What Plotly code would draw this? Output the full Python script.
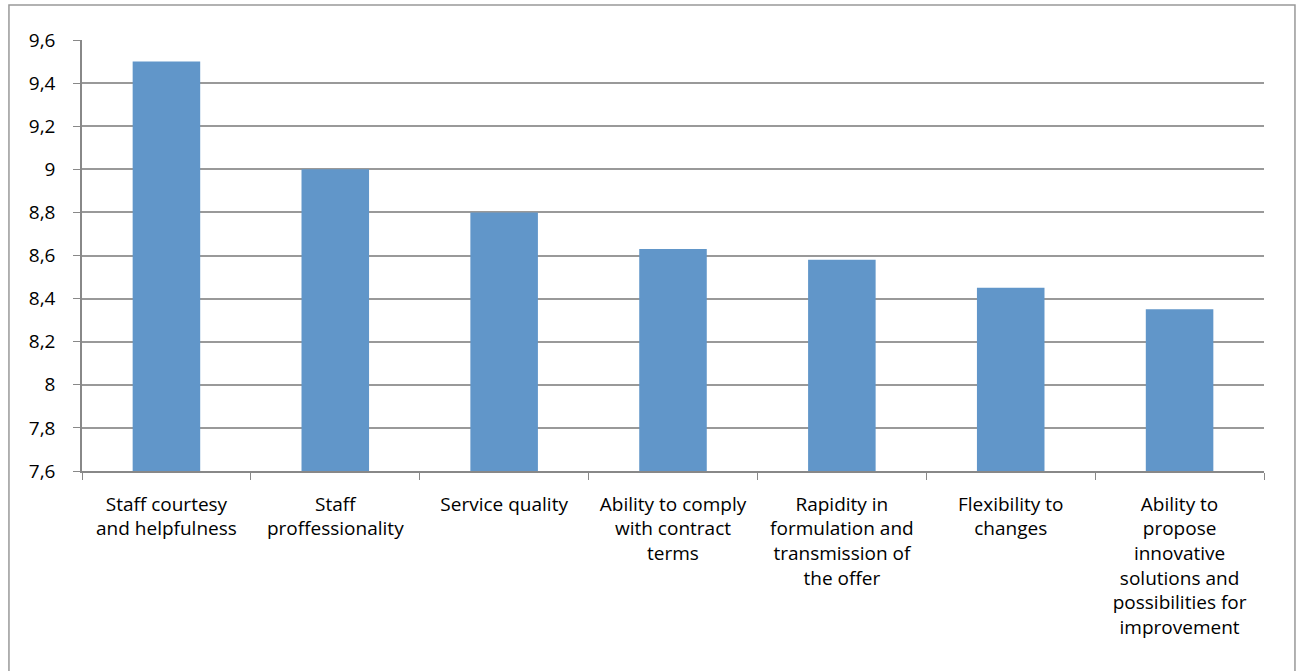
import plotly.graph_objects as go

categories = [
    "Staff courtesy<br>and helpfulness",
    "Staff<br>proffessionality",
    "Service quality",
    "Ability to comply<br>with contract<br>terms",
    "Rapidity in<br>formulation and<br>transmission of<br>the offer",
    "Flexibility to<br>changes",
    "Ability to<br>propose<br>innovative<br>solutions and<br>possibilities for<br>improvement",
]
values = [9.5, 9.0, 8.8, 8.63, 8.58, 8.45, 8.35]
y_ticks = [7.6, 7.8, 8.0, 8.2, 8.4, 8.6, 8.8, 9.0, 9.2, 9.4, 9.6]

fig = go.Figure(go.Bar(x=categories, y=values, marker=dict(color="#6196C9", line=dict(width=0)), width=0.4))

font = dict(family="'Open Sans', Lato, sans-serif", size=19, color="#000000")
fig.update_layout(
    width=1299, height=671,
    margin=dict(l=82, r=35, t=40, b=200),
    paper_bgcolor="white", plot_bgcolor="white",
    separators=", ",
    showlegend=False,
    font=font,
    bargap=0.6,
    xaxis=dict(showline=True, linecolor="#888888", linewidth=1.5, ticks="outside", ticklen=7,
               tickcolor="#888888", tickson="boundaries", showgrid=False, tickfont=font,
               tickangle=0, ticklabelstandoff=15, automargin=False),
    yaxis=dict(range=[7.6, 9.6], tickvals=y_ticks, ticktext=[f"{v:g}".replace(".", ",") for v in y_ticks],
               showline=True, linecolor="#888888", linewidth=1.5, ticks="outside", ticklen=7,
               tickcolor="#888888", showgrid=True, gridcolor="#999999", gridwidth=1.5,
               zeroline=False, tickfont=font, ticklabelstandoff=14, automargin=False),
    shapes=[dict(type="rect", xref="paper", yref="paper", x0=-0.0618, x1=1.0262, y0=-0.48, y1=1.0812,
                 line=dict(color="#999999", width=1.5), fillcolor="rgba(0,0,0,0)", layer="below")],
)
fig.write_html("out.html", config={"displayModeBar": False},
               post_script="document.body.style.margin='0';document.body.style.overflow='hidden';")
